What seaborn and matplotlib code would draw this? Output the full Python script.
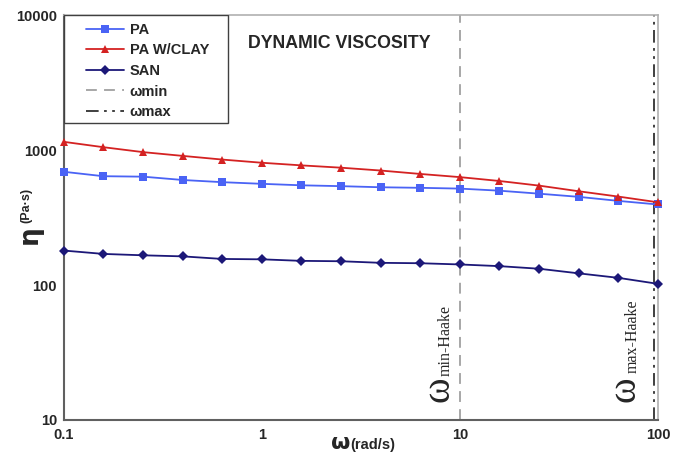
import matplotlib
matplotlib.use("Agg")
import matplotlib.pyplot as plt
import seaborn as sns
import pandas as pd
from matplotlib.lines import Line2D
from matplotlib.patches import Rectangle

# frequency points (rad/s), 5 per decade
omega = [0.1, 0.158, 0.251, 0.398, 0.631, 1.0, 1.58, 2.51, 3.98, 6.31,
         10.0, 15.8, 25.1, 39.8, 63.1, 100.0]
pa = [690, 640, 635, 600, 578, 562, 548, 540, 530, 525,
      518, 500, 475, 450, 420, 395]
pa_clay = [1150, 1050, 965, 905, 850, 805, 770, 740, 705, 665,
           630, 590, 545, 495, 452, 410]
san = [180, 170, 166, 163, 156, 155, 151, 150, 146, 145,
       142, 138, 132, 122, 113, 102]
omega_min = 10
omega_max = 95

series_names = ["PA", "PA W/CLAY", "SAN"]
colors = {"PA": "#4A63F5", "PA W/CLAY": "#D42222", "SAN": "#1C1878"}
markers = {"PA": "s", "PA W/CLAY": "^", "SAN": "D"}

df = pd.DataFrame({
    "omega": omega * 3,
    "eta": pa + pa_clay + san,
    "sample": [n for n in series_names for _ in omega],
})

sns.set_style("white")
plt.rcParams["font.family"] = ["Liberation Sans", "DejaVu Sans"]

fig = plt.figure(figsize=(6.85, 4.57), dpi=100)
ax = fig.add_axes([0.0934, 0.081, 0.8672, 0.886])

sns.lineplot(data=df, x="omega", y="eta", hue="sample", style="sample",
             palette=colors, markers=markers, dashes=False, ax=ax,
             linewidth=1.3, markersize=5.5, markeredgewidth=0, legend=False)
for line in ax.get_lines():
    line.set_clip_on(False)
    line.set_zorder(4)

ax.axvline(omega_min, color="#A0A0A0", linestyle=(0, (6, 4)), linewidth=1.3)
ax.axvline(omega_max, color="#303030", linestyle=(0, (7, 3, 1.5, 3, 1.5, 3)), linewidth=1.3)

ax.set_xscale("log")
ax.set_yscale("log")
ax.set_xlim(0.1, 100)
ax.set_ylim(10, 10000)
ax.set_xticks([0.1, 1, 10, 100])
ax.set_xticklabels(["0.1", "1", "10", "100"])
ax.set_yticks([10, 100, 1000, 10000])
ax.set_yticklabels(["10", "100", "1000", "10000"])
ax.minorticks_off()
ax.tick_params(axis="both", which="major", labelsize=10.5, length=4, width=1,
               color="#505050", direction="out", pad=2)
for lab in ax.get_xticklabels() + ax.get_yticklabels():
    lab.set_fontweight("bold")
ax.tick_params(axis="y", pad=1)

for side in ["left", "bottom"]:
    ax.spines[side].set_color("#606060")
    ax.spines[side].set_linewidth(1.5)
for side in ["top", "right"]:
    ax.spines[side].set_color("#B0B0B0")
    ax.spines[side].set_linewidth(1.2)

ax.set_xlabel("")
ax.set_ylabel("")
fig.text(0.511, 0.008, "ω", fontsize=16, ha="right", va="bottom",
         fontweight="bold", family="DejaVu Sans")
fig.text(0.511, 0.012, "(rad/s)", fontsize=10.5, ha="left", va="bottom", fontweight="bold")
fig.text(0.024, 0.466, "η", fontsize=19, rotation=90, ha="left", va="bottom",
         fontweight="bold", family="DejaVu Sans")
fig.text(0.030, 0.512, "(Pa·s)", fontsize=9, rotation=90, ha="left", va="bottom",
         fontweight="bold")

ax.text(0.31, 0.93, "DYNAMIC VISCOSITY", transform=ax.transAxes, fontsize=12.8,
        fontweight="bold", ha="left", va="center")

# vertical limit labels: big omega plus subscript, in serif
def limit_label(xval, sub, dx_w, dx_s, dy_s):
    kw = dict(xycoords="data", textcoords="offset pixels", rotation=90,
              rotation_mode="anchor", ha="left", va="baseline",
              family="Liberation Serif")
    ax.annotate("ω", (xval, 10), xytext=(dx_w, 18), fontsize=28, **kw)
    ax.annotate(sub, (xval, 10), xytext=(dx_s, dy_s), fontsize=11.5, **kw)

limit_label(omega_min, "min-Haake", -12, -10, 44)
limit_label(omega_max, "max-Haake", -19, -17, 47)

# legend box
ax.add_patch(Rectangle((0, 0.733), 0.276, 0.267, transform=ax.transAxes,
                       fill=True, facecolor="white", edgecolor="#404040",
                       linewidth=1.0, zorder=5))
handles = [Line2D([], [], color=colors[n], marker=markers[n], markersize=5.5,
                  markeredgewidth=0, linewidth=1.3) for n in series_names]
handles.append(Line2D([], [], color="#A0A0A0", linestyle=(0, (6, 4)), linewidth=1.3))
handles.append(Line2D([], [], color="#303030", linestyle=(0, (7, 3, 1.5, 3, 1.5, 3)), linewidth=1.3))
leg = ax.legend(handles, series_names + ["ωmin", "ωmax"], loc="upper left",
                bbox_to_anchor=(0.032, 0.988), frameon=False, borderaxespad=0,
                prop={"weight": "bold", "size": 10.5}, handlelength=2.6,
                labelspacing=0.45, borderpad=0.2, handletextpad=0.4)
leg.set_zorder(6)

fig.savefig("out.png", dpi=100)
